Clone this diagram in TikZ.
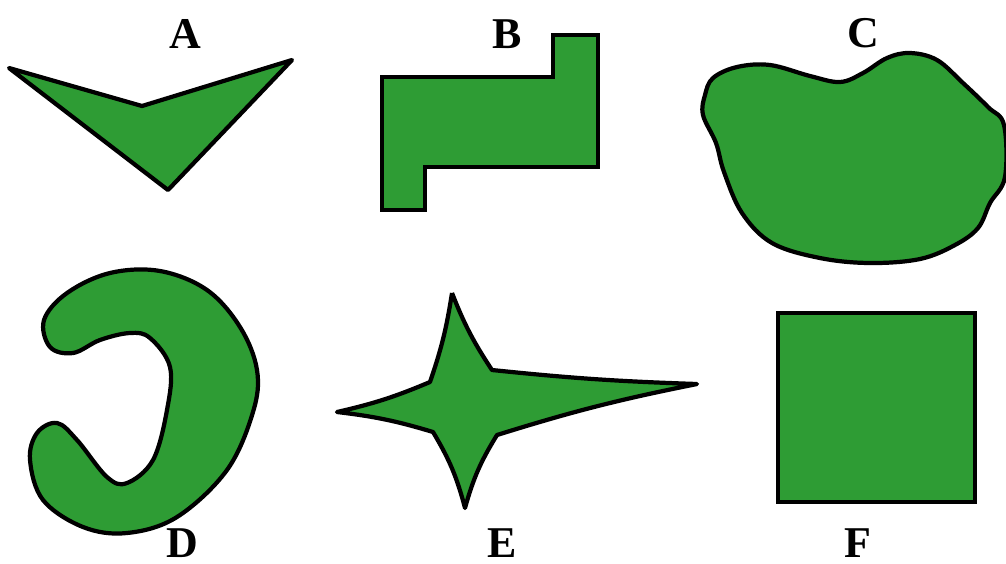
\documentclass[tikz,border=0pt]{standalone}
\usepackage{fontspec}
\setmainfont{Liberation Serif}
\begin{document}
\begin{tikzpicture}[x=0.01cm,y=-0.01cm,
  shapefill/.style={fill=shapegreen,draw=black,line width=1.2pt,line join=round},
  lbl/.style={font=\fontsize{12.5}{14}\selectfont\bfseries,inner sep=0pt}]
\definecolor{shapegreen}{RGB}{46,156,52}
\useasboundingbox (0,0) rectangle (1006,563);
\clip (0,0) rectangle (1006,563);
% A
\draw[shapefill] (9,68) -- (142,106) -- (292,60) -- (168,190) -- cycle;
\node[lbl] (lA) at (185,34) {A};
% B
\draw[shapefill,line join=miter] (382,77) -- (553,77) -- (553,35) -- (598,35) -- (598,167) -- (425,167) -- (425,210) -- (382,210) -- cycle;
\node[lbl] (lB) at (507,34) {B};
% C
\draw[shapefill] plot[smooth cycle,tension=0.6] coordinates {
 (705,95) (713,78) (737,67) (770,65) (810,76) (840,82) (863,73) (887,58) (910,53) (937,60) (963,83) (988,107) (1004,125)
 (1005,177) (990,203) (978,228) (955,245) (920,259) (870,263) (820,258) (772,243) (742,213) (724,172) (716,143) (703,115)};
\node[lbl] (lC) at (863,33) {C};
% D
\draw[shapefill] plot[smooth cycle,tension=0.6] coordinates {
 (44,320) (67,293) (110,273) (160,271) (207,290) (240,327) (257,370) (253,412) (227,470) (177,517) (127,533) (83,527) (43,500) (30,460) (37,433) (57,423) (77,440) (107,477) (127,483) (153,460) (167,410) (170,367) (150,338) (130,333) (100,340) (73,353) (50,347)};
\node[lbl] (lD) at (182,543) {D};
% E
\draw[shapefill] (452,293) to[bend right=6] (492,370)
  to[bend right=2] (697,384)
  to[bend right=3] (497,435)
  to[bend right=8] (465,508)
  to[bend right=8] (433,432)
  to[bend right=5] (337,412)
  to[bend right=5] (430,382)
  to[bend right=5] (452,293);
\node[lbl] (lE) at (502,543) {E};
% F
\draw[shapefill,line join=miter] (778,313) rectangle (975,502);
\node[lbl] (lF) at (858,543) {F};
\end{tikzpicture}
\end{document}
